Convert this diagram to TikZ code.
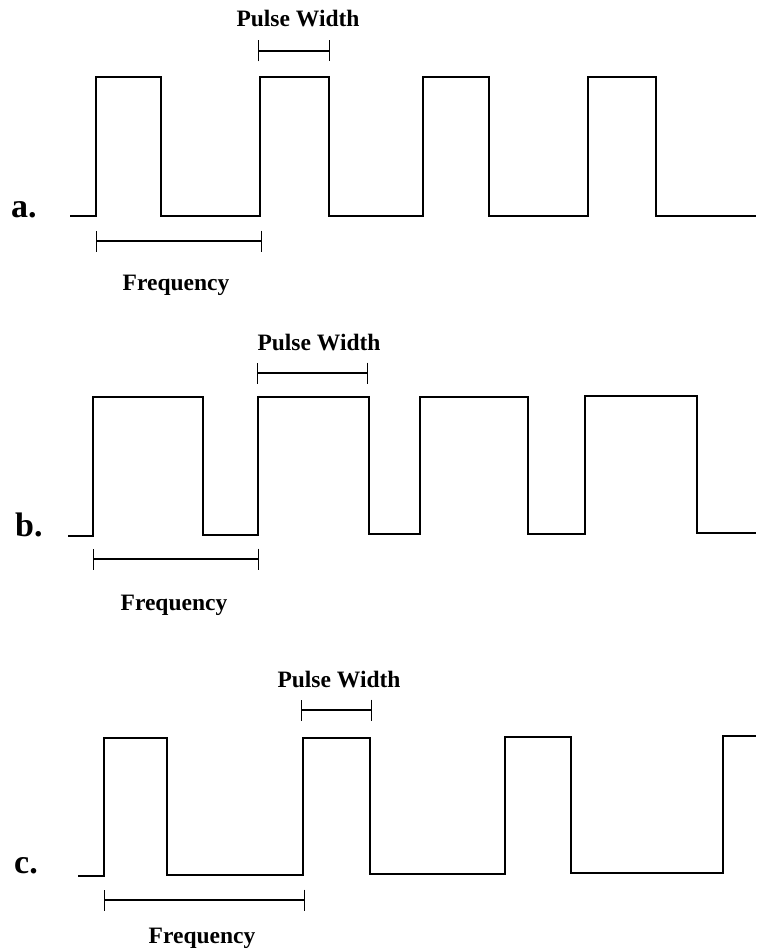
\documentclass[tikz,border=0pt]{standalone}
\usepackage{fontspec}
\setmainfont{Liberation Serif}
\usetikzlibrary{arrows.meta}
\tikzset{
  wave/.style={line width=2pt, line join=miter},
  dimbar/.style={line width=1.2pt, {Bar[width=21pt,line width=1.4pt]}-{Bar[width=21pt,line width=1.4pt]}},
  caption/.style={font=\bfseries\fontsize{23.5}{27}\selectfont, anchor=base, inner sep=0pt},
  panel/.style={font=\bfseries\fontsize{34}{38}\selectfont, anchor=base west, inner sep=0pt}
}
\begin{document}
\begin{tikzpicture}[x=1pt,y=-1pt]
\useasboundingbox (0,0) rectangle (756,952);

% ---------- a. equal-ish duty cycle ----------
\node[panel] (la) at (11,217) {a.};
\draw[wave] (70,216) -- (96,216) -- (96,77) -- (161,77) -- (161,216)
  -- (260,216) -- (260,77) -- (329,77) -- (329,216)
  -- (423,216) -- (423,77) -- (489,77) -- (489,216)
  -- (588,216) -- (588,77) -- (656,77) -- (656,216) -- (756,216);
\coordinate (apw1) at (258,51);
\coordinate (apw2) at (330,51);
\draw[dimbar] (apw1) -- (apw2);
\node[caption] (apwt) at (298,27) {Pulse Width};
\coordinate (afr1) at (96,241);
\coordinate (afr2) at (262,241);
\draw[dimbar] (afr1) -- (afr2);
\node[caption] (afrt) at (176,290) {Frequency};

% ---------- b. wide pulses ----------
\node[panel] (lb) at (15,536) {b.};
\draw[wave] (68,536) -- (93,536) -- (93,397) -- (203,397) -- (203,535)
  -- (258,535) -- (258,397) -- (369,397) -- (369,534)
  -- (420,534) -- (420,397) -- (528,397) -- (528,534)
  -- (585,534) -- (585,396) -- (697,396) -- (697,533) -- (756,533);
\coordinate (bpw1) at (257,373);
\coordinate (bpw2) at (368,373);
\draw[dimbar] (bpw1) -- (bpw2);
\node[caption] (bpwt) at (319,350) {Pulse Width};
\coordinate (bfr1) at (93,559);
\coordinate (bfr2) at (259,559);
\draw[dimbar] (bfr1) -- (bfr2);
\node[caption] (bfrt) at (174,610) {Frequency};

% ---------- c. lower frequency ----------
\node[panel] (lc) at (14,873) {c.};
\draw[wave] (78,876) -- (104,876) -- (104,738) -- (167,738) -- (167,875)
  -- (303,875) -- (303,738) -- (370,738) -- (370,874)
  -- (505,874) -- (505,737) -- (571,737) -- (571,873)
  -- (723,873) -- (723,736) -- (756,736);
\coordinate (cpw1) at (301,710);
\coordinate (cpw2) at (372,710);
\draw[dimbar] (cpw1) -- (cpw2);
\node[caption] (cpwt) at (339,687) {Pulse Width};
\coordinate (cfr1) at (104,900);
\coordinate (cfr2) at (305,900);
\draw[dimbar] (cfr1) -- (cfr2);
\node[caption] (cfrt) at (202,943) {Frequency};
\end{tikzpicture}
\end{document}
